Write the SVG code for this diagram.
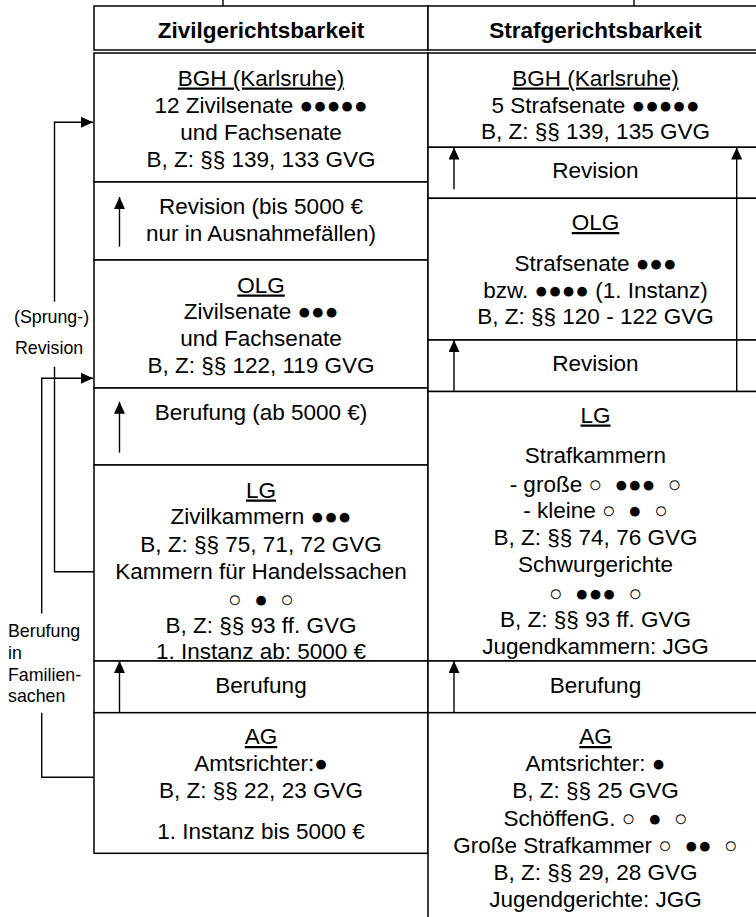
<svg xmlns="http://www.w3.org/2000/svg" width="756" height="917" viewBox="0 0 756 917">
<defs>
<style>
.cell{fill:#fff;stroke:#000;stroke-width:1.5}
.t{font-family:"Liberation Sans",Arial,sans-serif;font-size:22.5px;fill:#000;text-anchor:middle}
.h{font-weight:bold}
.u{text-decoration:underline}
.s{font-family:"Liberation Sans",Arial,sans-serif;font-size:17.8px;fill:#000}
.c{fill:none;stroke:#000;stroke-width:1.4}
</style>
<marker id="ah" markerUnits="userSpaceOnUse" markerWidth="12" markerHeight="11" refX="12" refY="5.5" orient="auto">
<path d="M0,0 L12,5.5 L0,11 Z" fill="#000"/>
</marker>
</defs>
<rect width="756" height="917" fill="#fff"/>

<g id="header-zivil">
<rect class="cell" x="94" y="6" width="334" height="44"/>
<text class="t h" x="261" y="37.5">Zivilgerichtsbarkeit</text>
</g>
<g id="header-straf">
<rect class="cell" x="428" y="6" width="336" height="44"/>
<text class="t h" x="595.5" y="37.5">Strafgerichtsbarkeit</text>
</g>

<g id="zivil-bgh">
<rect class="cell" x="94" y="53" width="334" height="129"/>
<text class="t u" x="261" y="85.5">BGH (Karlsruhe)</text>
<text class="t" x="261" y="112.5">12 Zivilsenate ●●●●●</text>
<text class="t" x="261" y="140">und Fachsenate</text>
<text class="t" x="261" y="166.5">B, Z: §§ 139, 133 GVG</text>
</g>
<g id="zivil-revision">
<rect class="cell" x="94" y="182" width="334" height="78"/>
<text class="t" x="261" y="214">Revision (bis 5000 €</text>
<text class="t" x="261" y="240.5">nur in Ausnahmefällen)</text>
</g>
<g id="zivil-olg">
<rect class="cell" x="94" y="260" width="334" height="128"/>
<text class="t u" x="261" y="292.5">OLG</text>
<text class="t" x="261" y="319">Zivilsenate ●●●</text>
<text class="t" x="261" y="346">und Fachsenate</text>
<text class="t" x="261" y="372.5">B, Z: §§ 122, 119 GVG</text>
</g>
<g id="zivil-berufung1">
<rect class="cell" x="94" y="388" width="334" height="77"/>
<text class="t" x="261" y="420">Berufung (ab 5000 €)</text>
</g>
<g id="zivil-lg">
<rect class="cell" x="94" y="465" width="334" height="196"/>
<text class="t u" x="261" y="497.5">LG</text>
<text class="t" x="261" y="524">Zivilkammern ●●●</text>
<text class="t" x="261" y="551.5">B, Z: §§ 75, 71, 72 GVG</text>
<text class="t" x="261" y="579">Kammern für Handelssachen</text>
<text class="t" x="261" y="607">○&#160; ●&#160; ○</text>
<text class="t" x="261" y="632.5">B, Z: §§ 93 ff. GVG</text>
<text class="t" x="261" y="659">1. Instanz ab: 5000 €</text>
</g>
<g id="zivil-berufung2">
<rect class="cell" x="94" y="661" width="334" height="51.7"/>
<text class="t" x="261" y="692.5">Berufung</text>
</g>
<g id="zivil-ag">
<rect class="cell" x="94" y="712.7" width="334" height="140.6"/>
<text class="t u" x="261" y="744">AG</text>
<text class="t" x="261" y="771">Amtsrichter:●</text>
<text class="t" x="261" y="797.5">B, Z: §§ 22, 23 GVG</text>
<text class="t" x="261" y="839">1. Instanz bis 5000 €</text>
</g>

<g id="straf-bgh">
<rect class="cell" x="428" y="53" width="336" height="94.3"/>
<text class="t u" x="595.5" y="85.5">BGH (Karlsruhe)</text>
<text class="t" x="595.5" y="112.5">5 Strafsenate ●●●●●</text>
<text class="t" x="595.5" y="139">B, Z: §§ 139, 135 GVG</text>
</g>
<g id="straf-revision1">
<rect class="cell" x="428" y="147.3" width="336" height="51"/>
<text class="t" x="595.5" y="178">Revision</text>
</g>
<g id="straf-olg">
<rect class="cell" x="428" y="198.3" width="336" height="141.7"/>
<text class="t u" x="595.5" y="230">OLG</text>
<text class="t" x="595.5" y="271">Strafsenate ●●●</text>
<text class="t" x="595.5" y="298">bzw. ●●●● (1. Instanz)</text>
<text class="t" x="595.5" y="324">B, Z: §§ 120 - 122 GVG</text>
</g>
<g id="straf-revision2">
<rect class="cell" x="428" y="340" width="336" height="51.5"/>
<text class="t" x="595.5" y="371">Revision</text>
</g>
<g id="straf-lg">
<rect class="cell" x="428" y="391.5" width="336" height="269.5"/>
<text class="t u" x="595.5" y="422.5">LG</text>
<text class="t" x="595.5" y="462.5">Strafkammern</text>
<text class="t" x="595.5" y="491.5">- große ○&#160; ●●●&#160; ○</text>
<text class="t" x="595.5" y="518">- kleine ○&#160; ●&#160; ○</text>
<text class="t" x="595.5" y="545">B, Z: §§ 74, 76 GVG</text>
<text class="t" x="595.5" y="571.5">Schwurgerichte</text>
<text class="t" x="595.5" y="600.5">○&#160; ●●●&#160; ○</text>
<text class="t" x="595.5" y="627">B, Z: §§ 93 ff. GVG</text>
<text class="t" x="595.5" y="653.5">Jugendkammern: JGG</text>
</g>
<g id="straf-berufung">
<rect class="cell" x="428" y="661" width="336" height="51.7"/>
<text class="t" x="595.5" y="692.5">Berufung</text>
</g>
<g id="straf-ag">
<rect class="cell" x="428" y="712.7" width="336" height="230"/>
<text class="t u" x="595.5" y="744">AG</text>
<text class="t" x="595.5" y="771">Amtsrichter: ●</text>
<text class="t" x="595.5" y="797.5">B, Z: §§ 25 GVG</text>
<text class="t" x="595.5" y="826">SchöffenG. ○&#160; ●&#160; ○</text>
<text class="t" x="595.5" y="852.5">Große Strafkammer ○&#160; ●●&#160; ○</text>
<text class="t" x="595.5" y="879.5">B, Z: §§ 29, 28 GVG</text>
<text class="t" x="595.5" y="907">Jugendgerichte: JGG</text>
</g>

<g id="side-labels">
<text class="s" x="14" y="323">(Sprung-)</text>
<text class="s" x="15" y="353.7">Revision</text>
<text class="s" x="8" y="636.7">Berufung</text>
<text class="s" x="8" y="658.5">in</text>
<text class="s" x="8" y="680.5">Familien-</text>
<text class="s" x="8" y="701.5">sachen</text>
</g>

<g id="connectors">
<path class="c" d="M223,0 V6 M634,0 V6"/>
<path class="c" d="M94,571.7 H54.5 V366.7 M54.5,301.7 V122.3 H93" marker-end="url(#ah)"/>
<path class="c" d="M94,777.3 H41.7 V712.7 M41.7,613.5 V378.3 H93" marker-end="url(#ah)"/>
<path class="c" d="M119.5,246.7 V197" marker-end="url(#ah)"/>
<path class="c" d="M119.5,452.7 V401.7" marker-end="url(#ah)"/>
<path class="c" d="M119.5,712.7 V661" marker-end="url(#ah)"/>
<path class="c" d="M454,189.3 V147.5" marker-end="url(#ah)"/>
<path class="c" d="M454,391 V340" marker-end="url(#ah)"/>
<path class="c" d="M736.7,391 V147.5" marker-end="url(#ah)"/>
<path class="c" d="M454,712.7 V661" marker-end="url(#ah)"/>
</g>
</svg>
